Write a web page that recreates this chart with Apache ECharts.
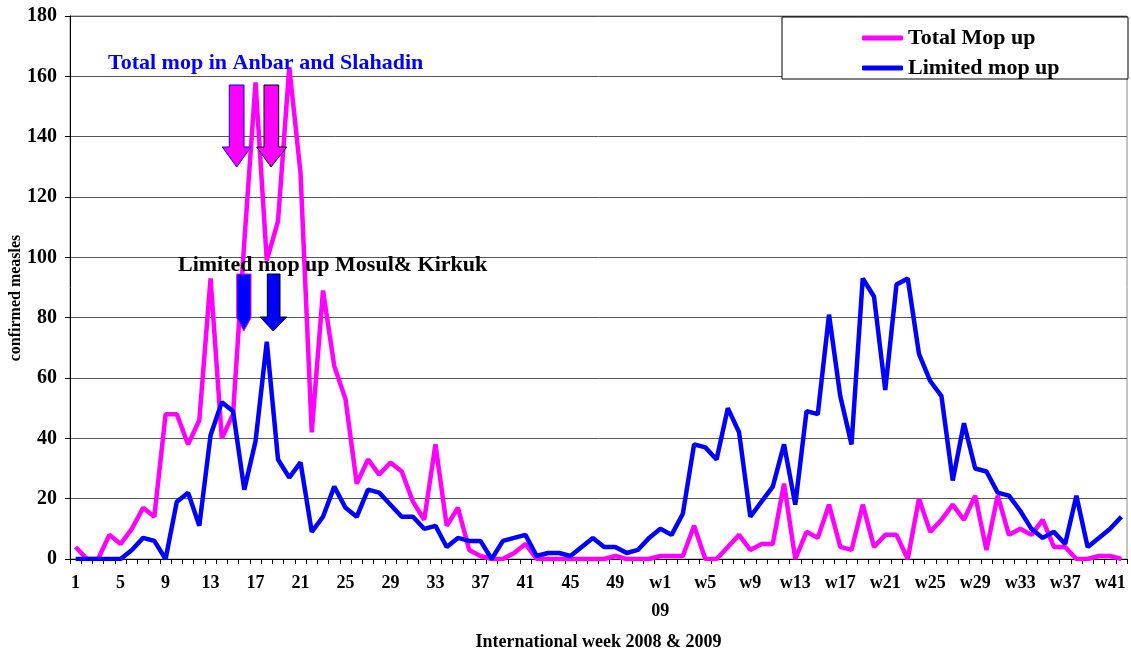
<!DOCTYPE html>
<html lang="en">
<head>
    <meta charset="UTF-8">
    <title>Measles mop up</title>
    <style>
    html, body { margin: 0; padding: 0; background: #fff; }
    #main { width: 1131px; height: 652px; }
    </style>
</head>
<body>
    <div id="main"></div>
    <script src="https://cdn.jsdelivr.net/npm/echarts@6/dist/echarts.min.js"></script>
    <script>
    // weeks: 1..52 of 2008, then w1..w42 of 2009
    var weeks2008 = [];
    for (var i = 1; i <= 52; i++) weeks2008.push(String(i));
    var weeks2009 = [];
    for (var j = 1; j <= 42; j++) weeks2009.push('w' + j);
    var weeks = weeks2008.concat(weeks2009);

    var totalMopUp = [
        4, 0, 0, 8, 5, 10, 17, 14, 48, 48, 38, 46, 93, 40, 48, 105, 158, 99, 112, 163,
        128, 42, 89, 64, 53, 25, 33, 28, 32, 29, 19, 13, 38, 11, 17, 3, 1, 0, 0, 2,
        5, 0, 0, 0, 0, 0, 0, 0, 1, 0, 0, 0,
        1, 1, 1, 11, 0, 0, 4, 8, 3, 5, 5, 25, 0, 9, 7, 18, 4, 3, 18, 4,
        8, 8, 0, 20, 9, 13, 18, 13, 21, 3, 21, 8, 10, 8, 13, 4, 4, 0, 0, 1,
        1, 0
    ];
    var limitedMopUp = [
        0, 0, 0, 0, 0, 3, 7, 6, 0, 19, 22, 11, 41, 52, 49, 23, 39, 72, 33, 27,
        32, 9, 14, 24, 17, 14, 23, 22, 18, 14, 14, 10, 11, 4, 7, 6, 6, 0, 6, 7,
        8, 1, 2, 2, 1, 4, 7, 4, 4, 2, 3, 7,
        10, 8, 15, 38, 37, 33, 50, 42, 14, 19, 24, 38, 18, 49, 48, 81, 54, 38, 93, 87,
        56, 91, 93, 68, 59, 54, 26, 45, 30, 29, 22, 21, 16, 10, 7, 9, 5, 21, 4, 7,
        10, 14
    ];

    var serif = '"Liberation Serif", "Times New Roman", serif';

    var chart = echarts.init(document.getElementById('main'));
    var option = {
        animation: false,
        grid: {
            left: 70, right: 4, top: 16, bottom: 93,
            outerBoundsMode: 'none',
            containLabel: false,
            show: true, borderColor: '#888', borderWidth: 1
        },
        xAxis: {
            type: 'category',
            data: weeks,
            boundaryGap: true,
            name: 'International week 2008 & 2009',
            nameLocation: 'middle',
            nameGap: 74,
            nameTextStyle: { fontFamily: serif, fontWeight: 'bold', fontSize: 18, color: '#000' },
            axisLine: { lineStyle: { color: '#000', width: 1 } },
            axisTick: { show: true, interval: 0, length: 5, lineStyle: { color: '#000' } },
            axisLabel: {
                interval: 3,
                margin: 10,
                fontFamily: serif, fontWeight: 'bold', fontSize: 18, color: '#000',
                lineHeight: 28,
                formatter: function (v) { return v === 'w1' ? 'w1\n09' : v; }
            },
            splitLine: { show: false }
        },
        yAxis: {
            type: 'value',
            min: 0, max: 180, interval: 20,
            axisLine: { show: true, lineStyle: { color: '#000', width: 1 } },
            axisTick: { show: true, length: 5, lineStyle: { color: '#000' } },
            axisLabel: { margin: 13, fontFamily: serif, fontWeight: 'bold', fontSize: 20, color: '#000' },
            splitLine: { lineStyle: { color: '#555', width: 1 } }
        },
        legend: {
            orient: 'vertical',
            left: 857, top: 21,
            itemWidth: 41, itemHeight: 5, itemGap: 6,
            icon: 'roundRect',
            textStyle: { fontFamily: serif, fontWeight: 'bold', fontSize: 22, color: '#000', lineHeight: 24 },
            data: ['Total Mop up', 'Limited mop up']
        },
        graphic: [
            { type: 'rect', z: 3, shape: { x: 782, y: 17, width: 346, height: 62 },
              style: { fill: '#fff', stroke: '#000', lineWidth: 1 } },
            { type: 'text', z: 20, x: 16, y: 298, rotation: Math.PI / 2,
              style: { text: 'confirmed measles', fill: '#000', align: 'center', verticalAlign: 'middle',
                       font: 'bold 16px ' + serif } },
            { type: 'text', z: 20, left: 108, top: 52,
              style: { text: 'Total mop in Anbar and Slahadin', fill: '#0000ff',
                       font: 'bold 22px ' + serif } },
            { type: 'text', z: 20, left: 178, top: 254,
              style: { text: 'Limited mop up Mosul& Kirkuk', fill: '#000',
                       font: 'bold 22px ' + serif } },
            // magenta arrows
            { type: 'polygon', z: 21,
              shape: { points: [[229.3, 85], [244, 85], [244, 147], [251, 147], [236.7, 167], [222.3, 147], [229.3, 147]] },
              style: { fill: '#ff00ff', stroke: '#0000ff', lineWidth: 1 } },
            { type: 'polygon', z: 21,
              shape: { points: [[264, 85], [278.7, 85], [278.7, 147], [286.7, 147], [271, 167], [256.7, 147], [264, 147]] },
              style: { fill: '#ff00ff', stroke: '#000', lineWidth: 1 } },
            // blue arrows
            { type: 'polygon', z: 21,
              shape: { points: [[236.7, 274], [251, 274], [251, 318], [243.8, 331], [236.7, 318]] },
              style: { fill: '#0000ff', stroke: '#ff00ff', lineWidth: 1 } },
            { type: 'polygon', z: 21,
              shape: { points: [[267.3, 274], [280, 274], [280, 317], [286.7, 317], [273.3, 331], [260, 317], [267.3, 317]] },
              style: { fill: '#0000ff', stroke: '#000', lineWidth: 1 } }
        ],
        series: [
            {
                name: 'Total Mop up',
                type: 'line',
                data: totalMopUp,
                showSymbol: false,
                symbol: 'none',
                z: 5,
                itemStyle: { color: '#ff00ff' },
                lineStyle: { color: '#ff00ff', width: 4.5 }
            },
            {
                name: 'Limited mop up',
                type: 'line',
                data: limitedMopUp,
                showSymbol: false,
                symbol: 'none',
                z: 6,
                itemStyle: { color: '#0000ff' },
                lineStyle: { color: '#0000ff', width: 4.5 }
            }
        ]
    };
    chart.setOption(option);
    </script>
</body>
</html>
